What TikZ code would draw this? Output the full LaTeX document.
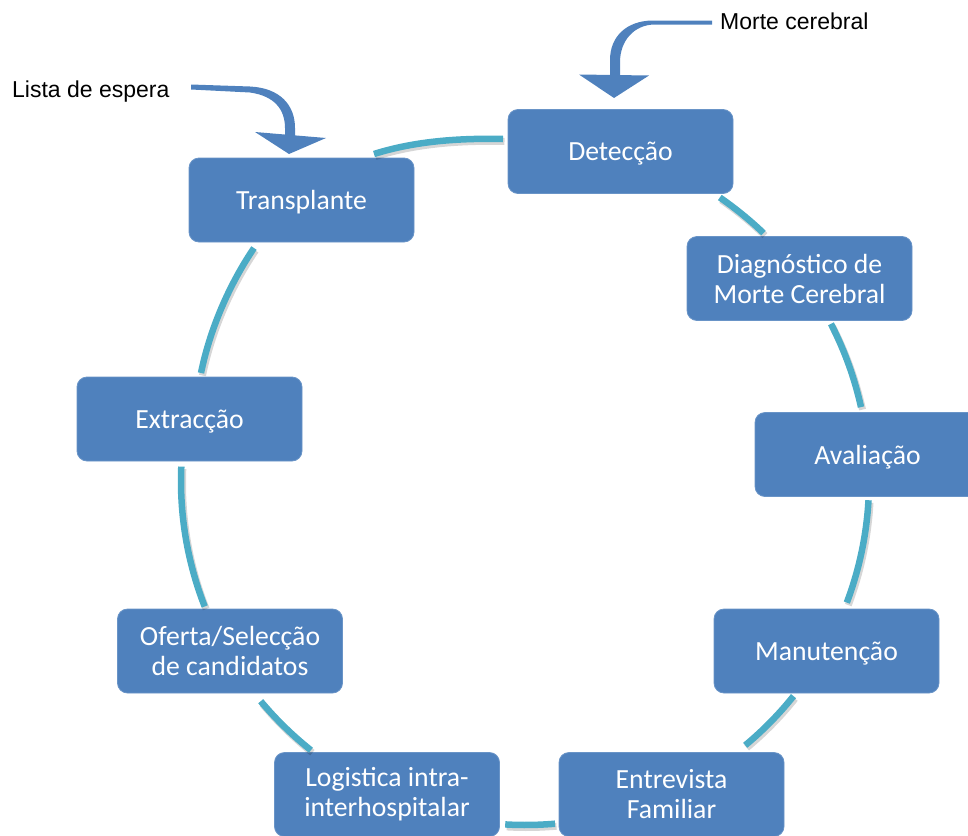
\documentclass[tikz,border=0pt]{standalone}
\usepackage{fontspec}
\setmainfont{Carlito}
\newfontfamily\labelfont{Liberation Sans}
\definecolor{boxblue}{HTML}{4F81BD}
\definecolor{arcteal}{HTML}{4BACC6}
\begin{document}
\begin{tikzpicture}[x=1pt,y=-1pt,
  stage/.style={rectangle, rounded corners=10pt, fill=boxblue, draw=boxblue!85!white,
    line width=0.8pt, minimum width=225pt, minimum height=84pt, text=white,
    align=center, inner sep=0pt, font=\fontsize{27.7}{30}\selectfont},
  oneline/.style={text depth=0pt},
  cyc/.style={arcteal, line width=6.5pt},
  cycshadow/.style={black, opacity=0.16, line width=7pt,
    transform canvas={xshift=1.5pt,yshift=-2.5pt}},
  lbl/.style={font=\labelfont\fontsize{23}{26}\selectfont, anchor=base west, inner sep=0pt},
  bigarrow/.style={fill=boxblue}
]
\useasboundingbox (0,0) rectangle (968,835);

% stage boxes
\node[stage,oneline] (det)  at (620.5,151.5) {Detecção};
\node[stage] (diag) at (799.5,278.5) {Diagnóstico de\\Morte Cerebral};
\node[stage,oneline] (aval) at (867.5,454.5) {Avaliação};
\node[stage,oneline] (man)  at (826.5,651)   {Manutenção};
\node[stage] (ent)  at (671.5,794.5) {Entrevista\\Familiar};
\node[stage] (log)  at (387,794.5)   {Logistica intra-\\interhospitalar};
\node[stage] (ofe)  at (230,651)     {Oferta/Selecção\\de candidatos};
\node[stage,oneline] (ext)  at (189.5,419)   {Extracção};
\node[stage,oneline] (tra)  at (301.5,200)   {Transplante};

% arc end points
\coordinate (a0s) at (503,139);     \coordinate (a0e) at (374,154);
\coordinate (a1s) at (719.8,197.5); \coordinate (a1e) at (763.5,233.1);
\coordinate (a2s) at (830.9,323.8); \coordinate (a2e) at (861.0,407.1);
\coordinate (a3s) at (868.5,500.2); \coordinate (a3e) at (846.8,602.6);
\coordinate (a4s) at (793.5,696.1); \coordinate (a4e) at (745.2,745.3);
\coordinate (a5s) at (555.0,823.7); \coordinate (a5e) at (505.2,824.4);
\coordinate (a6s) at (310.9,750.2); \coordinate (a6e) at (260.7,701.2);
\coordinate (a7s) at (204.7,606.5); \coordinate (a7e) at (181.3,466.6);
\coordinate (a8s) at (201,373);     \coordinate (a8e) at (254,248);

\foreach \sty in {cycshadow,cyc}{
  \draw[\sty] (a0s) .. controls (460,138) and (415,141) .. (a0e);
  \draw[\sty] (a1s) .. controls (735.3,208.2) and (749.9,220.1) .. (a1e);
  \draw[\sty] (a2s) .. controls (844.5,350.2) and (854.6,378.1) .. (a2e);
  \draw[\sty] (a3s) .. controls (866.5,535.2) and (859.2,569.8) .. (a3e);
  \draw[\sty] (a4s) .. controls (779.1,714.1) and (762.9,730.6) .. (a4e);
  \draw[\sty] (a5s) .. controls (538.4,825.1) and (521.8,825.4) .. (a5e);
  \draw[\sty] (a6s) .. controls (292.6,735.6) and (275.7,719.2) .. (a6e);
  \draw[\sty] (a7s) .. controls (187.3,562.0) and (179.3,514.4) .. (a7e);
  \draw[\sty] (a8s) .. controls (210,329) and (229,285) .. (a8e);
}

% labels
\node[lbl] (morte) at (720,29) {Morte cerebral};
\node[lbl] (lista) at (12,97) {Lista de espera};

% curved arrow from "Morte cerebral"
\fill[bigarrow] (712,20.5) -- (652,20.5) .. controls (627,21) and (610,36) .. (610,60)
  -- (610,76) -- (620,76) -- (620,62) .. controls (620,41) and (634,24.5) .. (655,24.5)
  -- (712,24.5) -- cycle;
\fill[bigarrow] (579,74.5) -- (614,98) -- (649,75.5) -- cycle;

% curved arrow from "Lista de espera"
\fill[bigarrow] (191,84.5) -- (250,86.5) .. controls (280,88) and (295,105) .. (295,128)
  -- (295,136) -- (285,136) -- (285,128) .. controls (285,110) and (275,96) .. (250,92.5)
  -- (191,89.5) -- cycle;
\fill[bigarrow] (255,132) -- (289,154) -- (326,138) -- cycle;
\end{tikzpicture}
\end{document}
